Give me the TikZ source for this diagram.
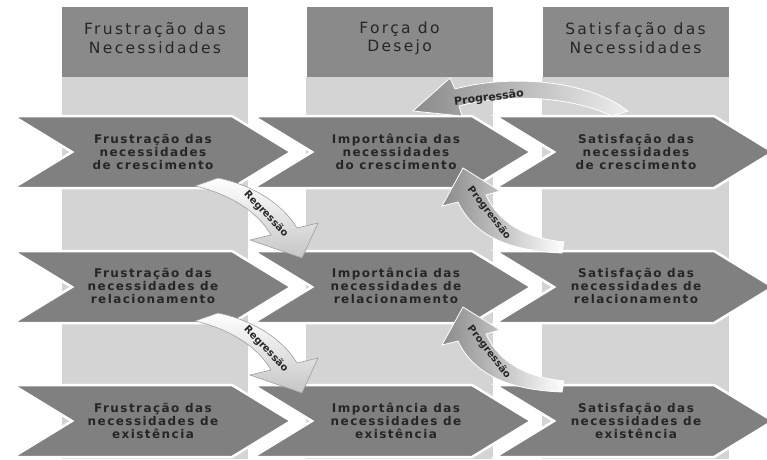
\documentclass[tikz,border=0pt]{standalone}
\usepackage{fontspec}
\setmainfont{DejaVu Sans}
\newfontfamily\headfont[LetterSpace=15]{DejaVu Sans}
\newfontfamily\boxfont[LetterSpace=12]{DejaVu Sans}
\newfontfamily\lblfont{DejaVu Sans}
\usetikzlibrary{calc}

\definecolor{headgray}{HTML}{8A8A8A}
\definecolor{bandgray}{HTML}{D4D4D4}
\definecolor{chevgray}{HTML}{808080}
\definecolor{inkgray}{HTML}{262626}
\definecolor{paleend}{HTML}{EDEDED}

% chevron with its notch at (#1,#2)
\newcommand\drawchev[2]{%
  \filldraw[chev] (#1-59,#2-36) -- (#1+160,#2-36) -- (#1+219,#2)
    -- (#1+160,#2+36) -- (#1-59,#2+36) -- (#1,#2) -- cycle;}

\begin{document}
\begin{tikzpicture}[x=1pt,y=-1pt,
  header/.style={fill=headgray, minimum width=186pt, minimum height=70pt, inner sep=0pt},
  headtxt/.style={text=inkgray, align=center, inner sep=0pt,
    font=\headfont\fontsize{15.5}{18.5}\selectfont},
  chev/.style={fill=chevgray, draw=white, line width=2.5pt, line join=miter},
  chevtxt/.style={text=inkgray, align=center, inner sep=0pt,
    font=\boxfont\bfseries\fontsize{12}{13}\selectfont},
  toplbl/.style={text=inkgray, inner sep=0pt,
    font=\lblfont\bfseries\fontsize{11}{12}\selectfont},
  sidelbl/.style={text=inkgray, inner sep=0pt,
    font=\lblfont\bfseries\fontsize{10}{11}\selectfont},
  uparrow/.style={left color=headgray, right color=white, draw=white, line width=0.8pt},
  downarrow/.style={top color=white, bottom color=gray!45, draw=gray!75, line width=0.6pt},
]
\useasboundingbox (0,0) rectangle (767,459);
\fill[white] (0,0) rectangle (767,459);

% column bands
\fill[bandgray] (62,77) rectangle (248,459);
\fill[bandgray] (306,77) rectangle (493,459);
\fill[bandgray] (542,77) rectangle (729,459);

% column headers
\node[header] (hF) at (155,42) {};
\node[header] (hD) at (399.5,42) {};
\node[header] (hS) at (635.5,42) {};
\node[headtxt] (tF) at (155,38) {Frustração das\\Necessidades};
\node[headtxt] (tD) at (399.5,38) {Força do\\Desejo};
\node[headtxt] (tS) at (635.5,38) {Satisfação das\\Necessidades};

% chevron rows
\foreach \cy in {152,287,421}{
  \drawchev{72}{\cy}
  \drawchev{312}{\cy}
  \drawchev{554}{\cy}
}

% row texts
\node[chevtxt] (f1) at (153,152) {Frustração das\\necessidades\\de crescimento};
\node[chevtxt] (i1) at (396,152) {Importância das\\necessidades\\do crescimento};
\node[chevtxt] (s1) at (636,152) {Satisfação das\\necessidades\\de crescimento};
\node[chevtxt] (f2) at (153,286) {Frustração das\\necessidades de\\relacionamento};
\node[chevtxt] (i2) at (396,286) {Importância das\\necessidades de\\relacionamento};
\node[chevtxt] (s2) at (636,286) {Satisfação das\\necessidades de\\relacionamento};
\node[chevtxt] (f3) at (153,421) {Frustração das\\necessidades de\\existência};
\node[chevtxt] (i3) at (396,421) {Importância das\\necessidades de\\existência};
\node[chevtxt] (s3) at (636,421) {Satisfação das\\necessidades de\\existência};

% top curved arrow
\shade[left color=headgray, right color=paleend, draw=white, line width=0.8pt]
  (628,111) .. controls (585,78) and (505,75) .. (455,89) -- (450,78) -- (413,111)
  -- (462,116) -- (459,106) .. controls (505,93) and (570,96) .. (612,116) -- cycle;
\node[toplbl, rotate=7] (pA) at (489,98) {Progressão};

% regression and progression arrows between rows
\foreach \dy/\k in {0/1,135/2}{
  \begin{scope}[shift={(0,\dy)}]
    \shade[downarrow]
      (218,178) .. controls (252,185) and (282,203) .. (297,228) -- (318,223)
      -- (302,258) -- (250,240) -- (271,235)
      .. controls (258,212) and (230,194) .. (195,186) -- cycle;
    \node[sidelbl, rotate=-46] (r\k) at (266,214) {Regressão};
  \end{scope}
}
\foreach \dy/\k in {0/1,139/2}{
  \begin{scope}[shift={(0,\dy)}]
    \shade[uparrow]
      (562,253) .. controls (510,251) and (474,236) .. (458,202) -- (442,206)
      -- (463,168) -- (500,191) -- (486,195)
      .. controls (499,223) and (525,238) .. (564,242) -- cycle;
    \node[sidelbl, rotate=-52] (p\k) at (489,213) {Progressão};
  \end{scope}
}
\end{tikzpicture}
\end{document}
